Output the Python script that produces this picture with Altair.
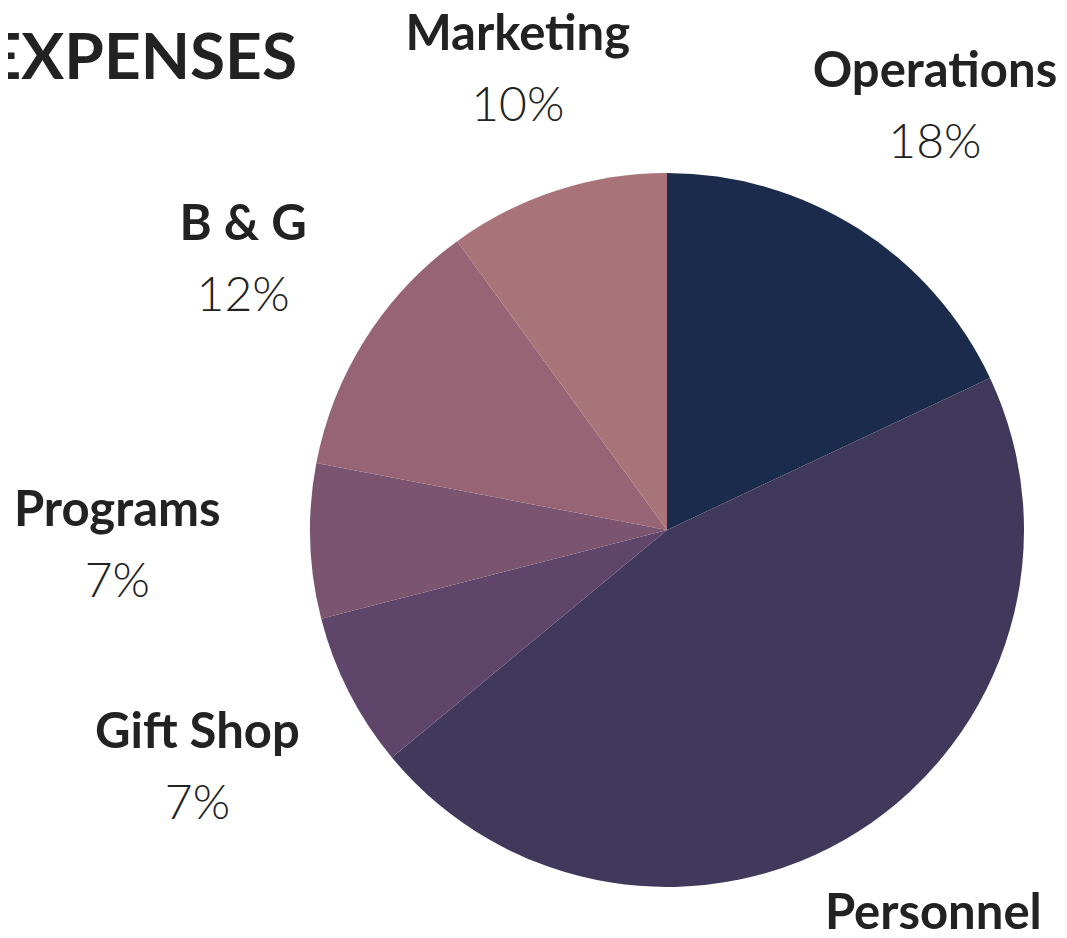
import altair as alt
import pandas as pd

# Data
categories = ["Operations", "Personnel", "Gift Shop", "Programs", "B & G", "Marketing"]
shares = [18, 46, 7, 7, 12, 10]
pct_labels = ["18%", "46%", "7%", "7%", "12%", "10%"]
title_text = ["EXPENSES"]

# Styling / layout (kept apart from the data)
colors = ["#1b2b4c", "#40395b", "#5e4569", "#7b5470", "#966475", "#a97479"]
label_radius = [500, 497, 527, 550, 502, 483]

df = pd.DataFrame({
    "category": categories,
    "share": shares,
    "pct": pct_labels,
    "order": list(range(len(categories))),
    "lr": label_radius,
})

pie = alt.Chart(df).mark_arc(outerRadius=357).encode(
    theta=alt.Theta("share:Q", stack=True),
    order=alt.Order("order:Q"),
    color=alt.Color("category:N",
                    scale=alt.Scale(domain=categories, range=colors),
                    legend=None),
)

label_base = alt.Chart(df).transform_window(
    cum="sum(share)",
    sort=[alt.SortField("order")],
    frame=[None, 0],
).transform_calculate(
    mid="datum.cum - datum.share / 2"
).encode(
    theta=alt.Theta("mid:Q", stack=None),
    radius=alt.Radius("lr:Q", scale=None),
)

names = label_base.mark_text(font="Lato", fontWeight="bold", fontSize=49,
                             color="#222222", baseline="middle",
                             align="center", dy=-36).encode(
    text="category:N",
)

pcts = label_base.mark_text(font="Lato", fontWeight=300, fontSize=48,
                            color="#222222", baseline="middle",
                            align="center", dy=36).encode(
    text="pct:N",
)

title = alt.Chart(pd.DataFrame({"t": title_text})).mark_text(
    font="Lato", fontWeight="bold", fontSize=64, color="#222222",
    align="right", baseline="alphabetic"
).encode(
    x=alt.value(22),
    y=alt.value(-43),
    text="t:N",
)

chart = alt.layer(pie, names, pcts, title).properties(
    width=784,
    height=816,
    padding={"left": 267, "top": 114, "right": 0, "bottom": 0},
    autosize=alt.AutoSizeParams(type="none"),
).configure_view(stroke=None)

chart.save("out.html", embed_options={"renderer": "svg", "actions": False})
